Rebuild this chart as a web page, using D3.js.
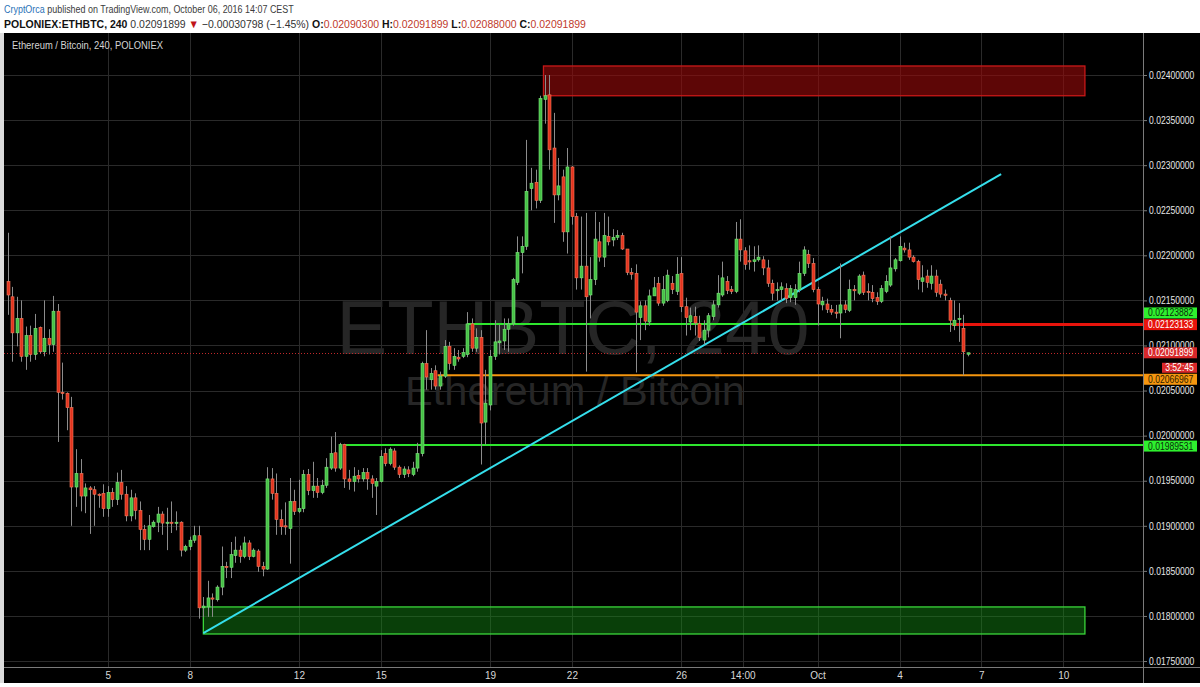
<!DOCTYPE html>
<html><head><meta charset="utf-8">
<script src="https://cdn.jsdelivr.net/npm/d3@7"></script>
<style>html,body{margin:0;padding:0;background:#fff;}svg{display:block;}</style>
</head><body>
<svg id="c" width="1200" height="687"></svg>
<script>
// ---------- DATA ----------
const firstCandle = "2016-09-01T08:00:00Z"; // 4h candles
const open = [
0.02171,0.02154,0.02114,0.02130,0.02088,0.02111,0.02090,0.02120,0.02093,0.02108,
0.02101,0.02138,0.02048,0.02047,0.02031,0.01943,0.01958,0.01933,0.01942,0.01940,
0.01935,0.01936,0.01919,0.01937,0.01929,0.01948,0.01935,0.01911,0.01931,0.01917,
0.01896,0.01885,0.01899,0.01904,0.01913,0.01903,0.01904,0.01903,0.01904,0.01873,
0.01877,0.01884,0.01889,0.01809,0.01810,0.01820,0.01818,0.01832,0.01855,0.01854,
0.01867,0.01873,0.01866,0.01881,0.01866,0.01872,0.01855,0.01852,0.01952,0.01936,
0.01907,0.01900,0.01897,0.01927,0.01916,0.01919,0.01957,0.01939,0.01944,0.01937,
0.01945,0.01964,0.01981,0.01964,0.01990,0.01952,0.01949,0.01956,0.01952,0.01959,
0.01952,0.01944,0.01949,0.01980,0.01969,0.01983,0.01965,0.01957,0.01962,0.01957,
0.01964,0.01980,0.02080,0.02062,0.02072,0.02055,0.02066,0.02099,0.02078,0.02087,
0.02088,0.02090,0.02124,0.02097,0.02109,0.02015,0.02034,0.02088,0.02103,0.02105,
0.02118,0.02124,0.02170,0.02203,0.02210,0.02274,0.02281,0.02261,0.02373,0.02378,
0.02319,0.02267,0.02287,0.02226,0.02298,0.02243,0.02175,0.02188,0.02156,0.02173,
0.02215,0.02198,0.02221,0.02217,0.02220,0.02222,0.02207,0.02181,0.02180,0.02131,
0.02144,0.02126,0.02155,0.02169,0.02147,0.02150,0.02169,0.02160,0.02180,0.02143,
0.02126,0.02132,0.02124,0.02106,0.02117,0.02132,0.02145,0.02156,0.02171,0.02162,
0.02160,0.02218,0.02205,0.02194,0.02193,0.02195,0.02195,0.02186,0.02169,0.02162,
0.02162,0.02163,0.02153,0.02153,0.02162,0.02180,0.02201,0.02191,0.02162,0.02145,
0.02146,0.02140,0.02137,0.02136,0.02145,0.02139,0.02162,0.02158,0.02178,0.02160,
0.02159,0.02153,0.02149,0.02160,0.02167,0.02185,0.02194,0.02208,0.02206,0.02198,
0.02193,0.02171,0.02177,0.02169,0.02177,0.02168,0.02157,0.02150,0.02122,0.02129,
0.02119,0.02090300];
const high = [
0.02225,0.02165,0.02154,0.02150,0.02121,0.02122,0.02135,0.02121,0.02150,0.02118,
0.02155,0.02146,0.02081,0.02048,0.02043,0.01985,0.01974,0.01947,0.01944,0.01944,
0.01936,0.01946,0.01944,0.01942,0.01959,0.01962,0.01944,0.01940,0.01936,0.01927,
0.01901,0.01912,0.01906,0.01921,0.01916,0.01920,0.01927,0.01916,0.01905,0.01879,
0.01888,0.01900,0.01900,0.01821,0.01839,0.01825,0.01834,0.01877,0.01860,0.01882,
0.01888,0.01878,0.01888,0.01884,0.01875,0.01874,0.01860,0.01965,0.01964,0.01958,
0.01918,0.01926,0.01953,0.01940,0.01951,0.01962,0.01963,0.01971,0.01953,0.01951,
0.01975,0.01999,0.02004,0.01992,0.01991,0.01962,0.01965,0.01962,0.01964,0.01964,
0.01956,0.01953,0.01984,0.01986,0.01987,0.01986,0.01967,0.01966,0.01966,0.01971,
0.01992,0.02082,0.02117,0.02075,0.02078,0.02071,0.02106,0.02104,0.02097,0.02095,
0.02097,0.02137,0.02130,0.02119,0.02117,0.02073,0.02095,0.02128,0.02123,0.02130,
0.02130,0.02175,0.02221,0.02221,0.02328,0.02297,0.02295,0.02377,0.02400,0.02400,
0.02358,0.02308,0.02295,0.02319,0.02299,0.02247,0.02243,0.02247,0.02198,0.02248,
0.02237,0.02247,0.02243,0.02229,0.02228,0.02225,0.02207,0.02186,0.02190,0.02149,
0.02150,0.02162,0.02176,0.02176,0.02177,0.02184,0.02177,0.02198,0.02198,0.02153,
0.02142,0.02143,0.02133,0.02128,0.02136,0.02150,0.02178,0.02193,0.02177,0.02166,
0.02237,0.02240,0.02209,0.02211,0.02210,0.02211,0.02199,0.02195,0.02173,0.02170,
0.02170,0.02169,0.02167,0.02168,0.02193,0.02210,0.02206,0.02197,0.02165,0.02154,
0.02152,0.02145,0.02145,0.02191,0.02150,0.02173,0.02167,0.02179,0.02182,0.02169,
0.02167,0.02159,0.02167,0.02178,0.02221,0.02197,0.02221,0.02214,0.02214,0.02200,
0.02195,0.02189,0.02184,0.02189,0.02184,0.02173,0.02162,0.02153,0.02150,0.02147,
0.02134,0.02091899];
const low = [
0.02134,0.02082,0.02099,0.02082,0.02073,0.02082,0.02084,0.02091,0.02088,0.02090,
0.02093,0.01993,0.02040,0.02006,0.01900,0.01921,0.01916,0.01914,0.01891,0.01900,
0.01920,0.01910,0.01910,0.01921,0.01923,0.01929,0.01905,0.01905,0.01907,0.01873,
0.01873,0.01873,0.01898,0.01893,0.01890,0.01873,0.01892,0.01895,0.01866,0.01871,
0.01873,0.01881,0.01797,0.01799,0.01799,0.01799,0.01816,0.01823,0.01842,0.01842,
0.01859,0.01859,0.01864,0.01862,0.01865,0.01849,0.01844,0.01851,0.01929,0.01890,
0.01890,0.01890,0.01858,0.01912,0.01914,0.01915,0.01934,0.01931,0.01931,0.01935,
0.01942,0.01962,0.01960,0.01962,0.01942,0.01940,0.01938,0.01948,0.01949,0.01940,
0.01931,0.01912,0.01948,0.01966,0.01967,0.01962,0.01953,0.01953,0.01954,0.01955,
0.01960,0.01977,0.02051,0.02051,0.02051,0.02051,0.02064,0.02073,0.02073,0.02082,
0.02086,0.02087,0.02093,0.02093,0.01968,0.01990,0.02028,0.02084,0.02090,0.02095,
0.02093,0.02122,0.02167,0.02180,0.02206,0.02250,0.02252,0.02258,0.02346,0.02295,
0.02236,0.02261,0.02215,0.02202,0.02234,0.02162,0.02162,0.02071,0.02130,0.02167,
0.02193,0.02187,0.02211,0.02210,0.02217,0.02206,0.02178,0.02173,0.02070,0.02106,
0.02117,0.02122,0.02155,0.02144,0.02144,0.02148,0.02157,0.02156,0.02137,0.02111,
0.02117,0.02111,0.02105,0.02101,0.02109,0.02128,0.02142,0.02154,0.02157,0.02157,
0.02158,0.02193,0.02184,0.02184,0.02182,0.02193,0.02178,0.02165,0.02150,0.02150,
0.02150,0.02147,0.02148,0.02145,0.02159,0.02177,0.02186,0.02159,0.02122,0.02139,
0.02136,0.02134,0.02130,0.02108,0.02136,0.02137,0.02150,0.02156,0.02156,0.02150,
0.02148,0.02145,0.02147,0.02158,0.02165,0.02182,0.02193,0.02203,0.02195,0.02192,
0.02162,0.02159,0.02164,0.02162,0.02154,0.02153,0.02150,0.02115,0.02117,0.02104,
0.02067,0.02088000];
const close = [
0.02156,0.02114,0.02130,0.02088,0.02111,0.02090,0.02119,0.02093,0.02108,0.02101,
0.02138,0.02048,0.02047,0.02031,0.01943,0.01958,0.01933,0.01942,0.01940,0.01935,
0.01934,0.01919,0.01937,0.01929,0.01948,0.01935,0.01911,0.01931,0.01917,0.01896,
0.01885,0.01900,0.01904,0.01913,0.01903,0.01904,0.01903,0.01904,0.01873,0.01877,
0.01884,0.01889,0.01809,0.01811,0.01820,0.01819,0.01832,0.01855,0.01854,0.01868,
0.01873,0.01866,0.01881,0.01866,0.01873,0.01855,0.01852,0.01952,0.01936,0.01907,
0.01899,0.01899,0.01927,0.01916,0.01919,0.01957,0.01939,0.01944,0.01937,0.01945,
0.01965,0.01980,0.01964,0.01990,0.01952,0.01949,0.01955,0.01952,0.01959,0.01952,
0.01947,0.01949,0.01977,0.01969,0.01985,0.01965,0.01957,0.01963,0.01958,0.01964,
0.01980,0.02080,0.02065,0.02069,0.02055,0.02066,0.02099,0.02080,0.02088,0.02085,
0.02092,0.02124,0.02097,0.02109,0.02014,0.02036,0.02088,0.02104,0.02105,0.02118,
0.02124,0.02173,0.02203,0.02210,0.02271,0.02280,0.02261,0.02374,0.02377,0.02317,
0.02267,0.02277,0.02226,0.02298,0.02243,0.02175,0.02188,0.02154,0.02173,0.02218,
0.02198,0.02222,0.02215,0.02220,0.02222,0.02207,0.02181,0.02179,0.02137,0.02144,
0.02127,0.02155,0.02164,0.02147,0.02162,0.02178,0.02162,0.02179,0.02143,0.02131,
0.02133,0.02125,0.02109,0.02117,0.02133,0.02145,0.02158,0.02175,0.02161,0.02160,
0.02218,0.02206,0.02190,0.02193,0.02195,0.02198,0.02186,0.02169,0.02158,0.02162,
0.02165,0.02152,0.02163,0.02162,0.02180,0.02206,0.02191,0.02162,0.02146,0.02149,
0.02140,0.02137,0.02136,0.02145,0.02140,0.02162,0.02161,0.02177,0.02159,0.02159,
0.02152,0.02149,0.02163,0.02171,0.02186,0.02195,0.02210,0.02206,0.02198,0.02193,
0.02173,0.02175,0.02170,0.02177,0.02159,0.02157,0.02156,0.02128,0.02128,0.02130,
0.02093,0.02091899];

const priceTicks = [0.0175,0.018,0.0185,0.019,0.0195,0.02,0.0205,0.021,0.0215,0.022,0.0225,0.023,0.0235,0.024];
const dateTicks = ["2016-09-05T00:00Z","2016-09-08T00:00Z","2016-09-12T00:00Z","2016-09-15T00:00Z","2016-09-19T00:00Z","2016-09-22T00:00Z","2016-09-26T00:00Z","2016-09-28T06:00Z","2016-10-01T00:00Z","2016-10-04T00:00Z","2016-10-07T00:00Z","2016-10-10T00:00Z"];
const dateLabels = ["5","8","12","15","19","22","26","14:00","Oct","4","7","10"];

// horizontal levels drawn on chart
const levelValues = [0.02123882, 0.02123133, 0.02066967, 0.01989531];
const levelStarts = ["2016-09-18T04:00Z","2016-10-05T22:00Z","2016-09-17T02:00Z","2016-09-13T15:00Z"];
// zones
const zoneTop = [0.0241, 0.0181];
const zoneBottom = [0.02377, 0.0178];
const zoneStart = ["2016-09-20T23:00Z","2016-09-08T12:00Z"];
const zoneEnd = ["2016-10-10T19:00Z","2016-10-10T19:00Z"];
// trend line
const trendTimes = ["2016-09-08T12:00Z","2016-10-07T17:20Z"];
const trendPrices = [0.01781, 0.0229];
const lastPrice = 0.02091899;
const countdown = "3:52:45";

// ---------- LAYOUT ----------
const W=1200,H=687, plotL=4, plotT=33, plotR=1143, plotB=667, frameB=683;
const FONT = "Liberation Sans, Arial, sans-serif";
const svg = d3.select("#c");
const P = s => new Date(s);
const t0 = P(firstCandle);
const x = d3.scaleUtc().domain([t0, d3.utcHour.offset(t0, 4*250)]).range([7.7, 7.7+250*4.55]);
const y = d3.scaleLinear().domain([0.0175, 0.024]).range([661.04, 75]);
const candles = open.map((o,i)=>({t:d3.utcHour.offset(t0,4*i), o, h:high[i], l:low[i], c:close[i]}));
const fmt8 = d3.format(".8f");

svg.append("rect").attr("width",W).attr("height",H).attr("fill","#fff");
svg.append("rect").attr("x",0).attr("y",plotT).attr("width",plotL).attr("height",frameB-plotT).attr("fill","#dcdcdc");
svg.append("rect").attr("x",plotL).attr("y",plotT).attr("width",W-plotL).attr("height",frameB-plotT).attr("fill","#000");

svg.append("defs").append("clipPath").attr("id","pc").append("rect")
  .attr("x",plotL).attr("y",plotT).attr("width",plotR-plotL).attr("height",plotB-plotT);

// grid
const grid = svg.append("g").attr("clip-path","url(#pc)");
grid.selectAll("line.h").data(priceTicks).join("line")
  .attr("x1",plotL).attr("x2",plotR).attr("y1",d=>Math.round(y(d))+0.5).attr("y2",d=>Math.round(y(d))+0.5)
  .attr("stroke","#2a2a2a").attr("stroke-width",1);
grid.selectAll("line.v").data(dateTicks).join("line")
  .attr("y1",plotT).attr("y2",plotB).attr("x1",d=>Math.round(x(P(d)))+0.5).attr("x2",d=>Math.round(x(P(d)))+0.5)
  .attr("stroke","#2a2a2a").attr("stroke-width",1);

// watermark
svg.append("text").attr("x",573).attr("y",354).attr("text-anchor","middle")
  .attr("font-family",FONT).attr("font-size",76)
  .attr("textLength",473).attr("lengthAdjust","spacingAndGlyphs")
  .attr("fill","#262626").text("ETHBTC, 240");
svg.append("text").attr("x",575).attr("y",405).attr("text-anchor","middle")
  .attr("font-family",FONT).attr("font-size",41)
  .attr("textLength",340).attr("lengthAdjust","spacingAndGlyphs")
  .attr("fill","#262626").text("Ethereum / Bitcoin");

// title
svg.append("text").attr("x",12).attr("y",49).attr("font-family",FONT)
  .attr("font-size",11).attr("fill","#d4d4d4").attr("textLength",151).attr("lengthAdjust","spacingAndGlyphs")
  .text("Ethereum / Bitcoin, 240, POLONIEX");

const plot = svg.append("g").attr("clip-path","url(#pc)");

// zones
const zoneFill = ["rgba(150,10,10,0.62)","rgba(20,140,20,0.45)"];
const zoneStroke = ["#c81818","#3ad63a"];
plot.selectAll("rect.zone").data(zoneTop).join("rect")
  .attr("x",(d,i)=>x(P(zoneStart[i]))).attr("width",(d,i)=>x(P(zoneEnd[i]))-x(P(zoneStart[i])))
  .attr("y",d=>y(d)).attr("height",(d,i)=>y(zoneBottom[i])-y(d))
  .attr("fill",(d,i)=>zoneFill[i]).attr("stroke",(d,i)=>zoneStroke[i]).attr("stroke-width",1.3);

// levels
const levelColor = ["#2ee62e","#e8140c","#f5960f","#2ee62e"];
const levelWidth = [2,3,2,2];
plot.selectAll("line.lvl").data(levelValues).join("line")
  .attr("x1",(d,i)=>x(P(levelStarts[i]))).attr("x2",plotR)
  .attr("y1",d=>y(d)).attr("y2",d=>y(d))
  .attr("stroke",(d,i)=>levelColor[i]).attr("stroke-width",(d,i)=>levelWidth[i]);

// price line dotted
plot.append("line").attr("x1",plotL).attr("x2",plotR).attr("y1",Math.round(y(lastPrice))+0.5).attr("y2",Math.round(y(lastPrice))+0.5)
  .attr("stroke","#c0282a").attr("stroke-width",1).attr("stroke-dasharray","1,2");

// trend line
plot.append("line").attr("x1",x(P(trendTimes[0]))).attr("y1",y(trendPrices[0]))
  .attr("x2",x(P(trendTimes[1]))).attr("y2",y(trendPrices[1]))
  .attr("stroke","#35dfec").attr("stroke-width",2);

// candles
const cx = d => Math.round(x(d.t));
plot.selectAll("line.wick").data(candles).join("line")
  .attr("x1",d=>cx(d)+0.5).attr("x2",d=>cx(d)+0.5)
  .attr("y1",d=>y(d.h)).attr("y2",d=>y(d.l))
  .attr("stroke","#8c8c8c").attr("stroke-width",1);
plot.selectAll("rect.body").data(candles).join("rect")
  .attr("x",d=>cx(d)-1).attr("width",3)
  .attr("y",d=>y(Math.max(d.o,d.c)))
  .attr("height",d=>Math.max(1.2, Math.abs(y(d.o)-y(d.c))))
  .attr("fill",d=>d.c>=d.o ? "#46c046" : "#e2341f")
  .attr("stroke",d=>d.c>=d.o ? "#7be87b" : "#f77a5c").attr("stroke-width",0.6);

// axes frame
svg.append("line").attr("x1",plotR+0.5).attr("x2",plotR+0.5).attr("y1",plotT).attr("y2",frameB).attr("stroke","#7a7a7a");
svg.append("line").attr("x1",plotL).attr("x2",W).attr("y1",plotB+0.5).attr("y2",plotB+0.5).attr("stroke","#7a7a7a");

// narrow numeric text: natural Liberation Sans 10px, squeezed horizontally
const SQ = 0.86;
function narrow(sel, x0){ sel.attr("x",0).attr("transform",`translate(${x0},0) scale(${SQ},1)`); }

// price axis
const yAxis = svg.append("g").attr("transform",`translate(${plotR},0)`)
  .call(d3.axisRight(y).tickValues(priceTicks).tickFormat(fmt8).tickSize(4).tickPadding(2));
yAxis.select(".domain").remove();
yAxis.selectAll(".tick line").attr("stroke","#7a7a7a");
yAxis.selectAll(".tick text").attr("fill","#e6e6e6").attr("font-size",10).attr("font-family",FONT)
  .call(narrow, 6);

// time axis
const xAxis = svg.append("g").attr("transform",`translate(0,${plotB})`)
  .call(d3.axisBottom(x).tickValues(dateTicks.map(P)).tickFormat((d,i)=>dateLabels[i]).tickSize(0).tickPadding(5));
xAxis.select(".domain").remove();
xAxis.selectAll(".tick text").attr("fill","#d8d8d8").attr("font-size",10).attr("font-family",FONT);

// axis value labels for levels
const labelBg = ["#2ef02e","#e8140c","#f5960f","#2ef02e"];
const labelFg = ["#0b2a0b","#ffffff","#2a1a00","#0b2a0b"];
const labelShift = [-11, 0, 4, 1];
const lab = svg.append("g").attr("font-family",FONT).attr("font-size",10);
function valueLabel(v, cy, bg, fg){
  lab.append("rect").attr("x",plotR+1).attr("y",cy-5.5).attr("width",53).attr("height",11).attr("fill",bg);
  lab.append("text").attr("y",cy).attr("dy","0.35em").attr("fill",fg).text(fmt8(v)).call(narrow, plotR+5);
}
levelValues.forEach((v,i)=> valueLabel(v, y(v)+labelShift[i], labelBg[i], labelFg[i]));
valueLabel(lastPrice, y(lastPrice), "#d8282a", "#fff");
{
  const cy = y(lastPrice);
  lab.append("rect").attr("x",1162).attr("y",cy+10).attr("width",35).attr("height",10).attr("fill","#d8282a");
  lab.append("text").attr("y",cy+15).attr("dy","0.35em").attr("text-anchor","middle")
    .attr("fill","#fff").text(countdown).call(narrow, 1179.5);
}

// header (each line squeezed horizontally to the width it has in the snapshot)
const hdr = svg.append("g").attr("font-family",FONT).attr("font-size",11.5);
const l1 = hdr.append("text").attr("x",0).attr("y",13);
l1.append("tspan").attr("fill","#2a72b8").text("CryptOrca");
l1.append("tspan").attr("fill","#3c3c3c").text(" published on TradingView.com, October 06, 2016 14:07 CEST");
const l2 = hdr.append("text").attr("x",0).attr("y",28);
l2.append("tspan").attr("fill","#111").attr("font-weight","bold").text("POLONIEX:ETHBTC, 240");
l2.append("tspan").attr("fill","#333").text(" 0.02091899 ");
l2.append("tspan").attr("fill","#c0141a").text("▼");
l2.append("tspan").attr("fill","#333").text(" \u22120.00030798 (\u22121.45%) ");
[["O:","0.02090300"],["H:","0.02091899"],["L:","0.02088000"],["C:","0.02091899"]].forEach(([k,v],i)=>{
  l2.append("tspan").attr("fill","#111").attr("font-weight","bold").text((i?" ":"")+k);
  l2.append("tspan").attr("fill","#c0392b").text(v);
});
[[l1,290],[l2,582]].forEach(([t,target])=>{
  const w = t.node().getComputedTextLength();
  const s = Math.min(1, target/w);
  t.attr("transform",`translate(4,0) scale(${s},1)`);
});
</script>
</body></html>
